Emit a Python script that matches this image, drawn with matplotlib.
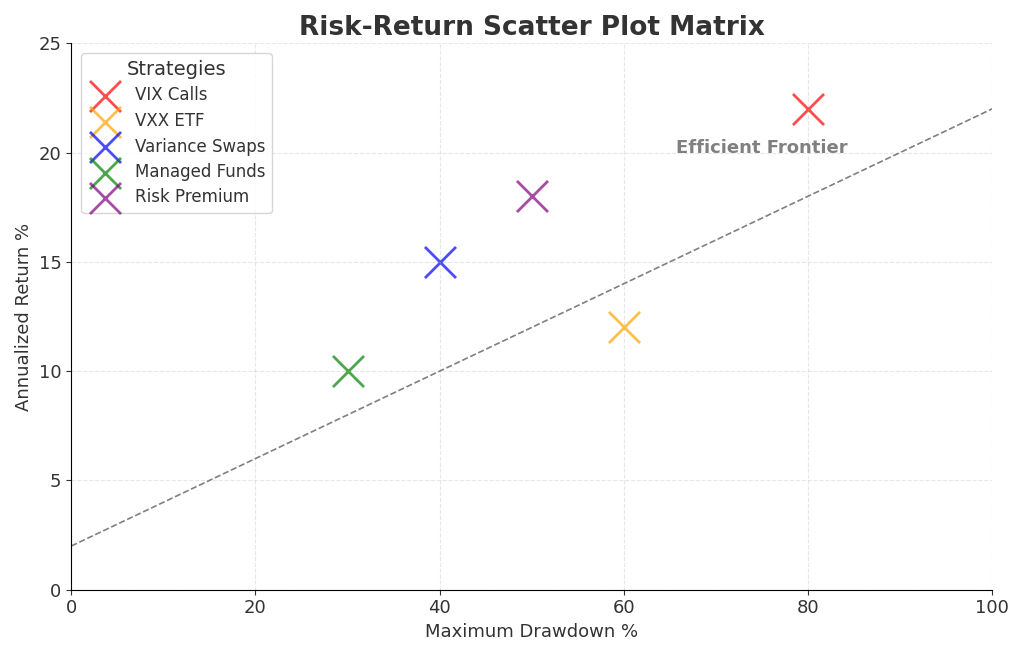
import matplotlib.pyplot as plt
import numpy as np

strategies = ['VIX Calls', 'VXX ETF', 'Variance Swaps', 'Managed Funds', 'Risk Premium']
drawdown = [80, 60, 40, 30, 50]
annual_return = [22, 12, 15, 10, 18]
colors = ['red', 'orange', 'blue', 'green', 'purple']

frontier_x = [0, 100]
frontier_y = [2, 22]

fig, ax = plt.subplots(figsize=(10.24, 6.56), dpi=100)

for name, x, y, c in zip(strategies, drawdown, annual_return, colors):
    ax.scatter(x, y, s=500, c=c, marker='x', alpha=0.7, linewidths=2, label=name)

ax.plot(frontier_x, frontier_y, linestyle='--', color='gray', linewidth=1.2)
ax.text(75, 19.8, 'Efficient Frontier', fontsize=13, fontweight='bold', color='gray',
        ha='center', va='bottom')

ax.set_xlim(0, 100)
ax.set_ylim(0, 25)
ax.set_xlabel('Maximum Drawdown %', fontsize=13, color='#333333')
ax.set_ylabel('Annualized Return %', fontsize=13, color='#333333')
ax.set_title('Risk-Return Scatter Plot Matrix', fontsize=19, fontweight='bold', color='#333333')
ax.tick_params(labelsize=13, colors='#333333')
ax.grid(True, linestyle='--', alpha=0.3)
ax.spines['top'].set_visible(False)
ax.spines['right'].set_visible(False)

leg = ax.legend(title='Strategies', loc='upper left', fontsize=12, title_fontsize=14,
                borderaxespad=0.6, handletextpad=0.8, labelspacing=0.45)
for t in leg.get_texts():
    t.set_color('#333333')
leg.get_title().set_color('#333333')

plt.tight_layout()
plt.savefig('out.png', dpi=100)
